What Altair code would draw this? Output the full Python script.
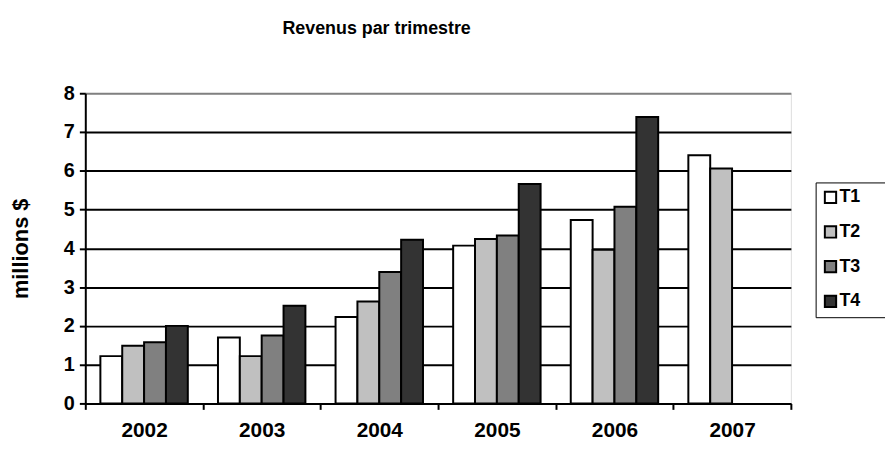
import altair as alt
import pandas as pd

years = ["2002", "2003", "2004", "2005", "2006", "2007"]
quarters = ["T1", "T2", "T3", "T4"]
colors = ["#ffffff", "#c0c0c0", "#808080", "#333333"]
t1 = [1.22, 1.70, 2.23, 4.07, 4.73, 6.40]
t2 = [1.49, 1.22, 2.63, 4.24, 3.96, 6.06]
t3 = [1.58, 1.75, 3.39, 4.33, 5.07, None]
t4 = [2.00, 2.52, 4.22, 5.66, 7.39, None]

rows = []
for series, q in zip([t1, t2, t3, t4], quarters):
    for y, v in zip(years, series):
        if v is not None:
            rows.append({"annee": y, "trimestre": q, "valeur": v})
df = pd.DataFrame(rows)

FONT = "Liberation Sans"

chart = alt.Chart(df).mark_bar(stroke="black", strokeWidth=2).encode(
    x=alt.X("annee:N", sort=years,
            scale=alt.Scale(paddingInner=0, paddingOuter=0),
            axis=alt.Axis(title=None, labelAngle=0, tickBand="extent", grid=False,
                          domainColor="black", domainWidth=2, tickColor="black",
                          tickWidth=2, tickSize=6, labelFont=FONT, labelFontSize=21,
                          labelFontWeight="bold", labelColor="black", labelPadding=10)),
    xOffset=alt.XOffset("trimestre:N", sort=quarters,
                        scale=alt.Scale(domain=quarters, paddingInner=0, paddingOuter=0.69)),
    y=alt.Y("valeur:Q",
            scale=alt.Scale(domain=[0, 8], nice=False),
            axis=alt.Axis(title="millions $", values=list(range(0, 9)), grid=True,
                          gridColor=alt.condition("datum.value == 8", alt.value("#808080"), alt.value("black")),
                          gridWidth=2, gridOpacity=1,
                          domainColor="black", domainWidth=2, tickColor="black",
                          tickWidth=2, tickSize=6, labelFont=FONT, labelFontSize=20,
                          labelFontWeight="bold", labelColor="black", labelPadding=5,
                          titleFont=FONT, titleFontSize=22, titleFontWeight="bold",
                          titleColor="black", titleX=-65, titleBaseline="middle")),
    fill=alt.Fill("trimestre:N", sort=quarters,
                  scale=alt.Scale(domain=quarters, range=colors),
                  legend=alt.Legend(title="TTT", titleOrient="right", titleOpacity=0,
                                    titleFontSize=13, titlePadding=0,
                                    orient="none", legendX=737, legendY=90,
                                    symbolType="square", symbolSize=130,
                                    symbolStrokeColor="black", symbolStrokeWidth=2,
                                    labelFont=FONT, labelFontSize=18, labelFontWeight="bold",
                                    labelColor="black", rowPadding=15, padding=6,
                                    strokeColor="black", fillColor="white",
                                    labelOffset=0)),
).properties(
    width=712,
    height=313,
    title=alt.TitleParams("Revenus par trimestre", font=FONT, fontSize=18,
                          fontWeight="bold", color="black", anchor="middle",
                          frame="group", offset=46, dx=-62),
    autosize=alt.AutoSizeParams(type="none"),
    padding={"left": 78, "top": 84, "right": 95, "bottom": 47},
).configure_view(
    stroke="#808080", strokeWidth=2
).configure(background="white")

chart.save("out.html", embed_options={"renderer": "svg", "actions": False})
